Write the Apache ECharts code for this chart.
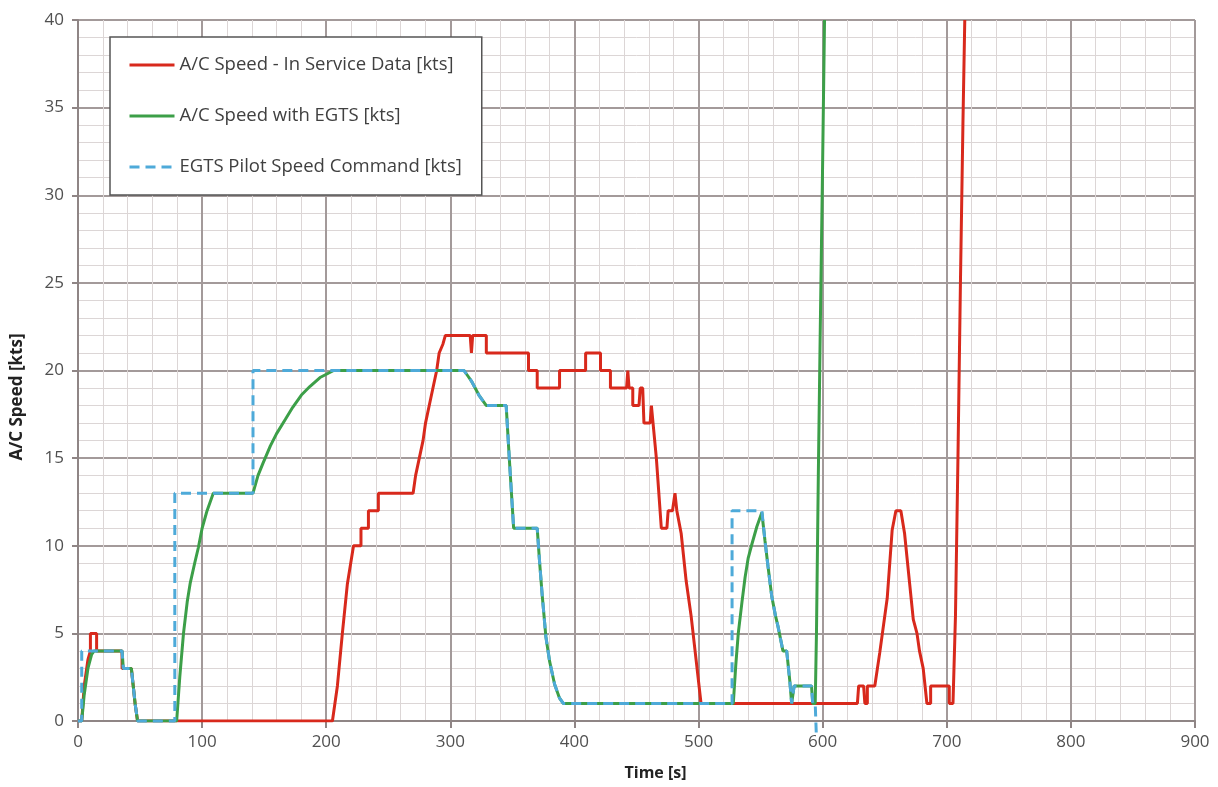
<!DOCTYPE html>
<html>
<head>
<meta charset="utf-8">
<title>A/C Speed</title>
<script src="https://cdn.jsdelivr.net/npm/echarts@6/dist/echarts.min.js"></script>
<style>
html, body { margin: 0; padding: 0; background: #fff; }
#chart { width: 1218px; height: 787px; }
</style>
</head>
<body>
<div id="chart"></div>
<script>
// axis ticks
const timeTicks = [0, 100, 200, 300, 400, 500, 600, 700, 800, 900];
const speedTicks = [0, 5, 10, 15, 20, 25, 30, 35, 40];

const seriesNames = [
  "A/C Speed - In Service Data [kts]",
  "A/C Speed with EGTS [kts]",
  "EGTS Pilot Speed Command [kts]"
];

// [time s, speed kts]
const inServiceSpeed = [
  [0, 0], [3, 0], [5, 2], [8, 3.5], [10, 4], [10, 5], [15, 5], [15, 4], [35.5, 4], [35.5, 3],
  [43, 3], [46, 1], [48, 0], [205, 0], [209, 2], [213, 5], [217, 7.8], [222, 10], [228, 10],
  [228, 11], [234, 11], [234, 12], [242, 12], [242, 13], [270, 13], [272, 14], [275, 15],
  [278, 16], [280, 17], [283, 18], [286, 19], [289, 20], [291, 21], [294, 21.5], [296, 22],
  [316, 22], [317, 21], [318, 22], [329, 22], [329, 21], [363, 21], [363, 20], [370, 20],
  [370, 19], [388, 19], [388, 20], [409, 20], [409, 21], [421, 21], [421, 20], [429, 20],
  [429, 19], [442, 19], [443, 20], [444, 19], [447, 19], [447, 18], [452, 18], [453, 19],
  [455, 19], [456, 17], [461, 17], [462, 18], [463, 18], [466, 15], [470, 11], [474.5, 11],
  [475.5, 12], [479, 12], [481, 13], [482.5, 12], [486, 10.7], [490, 8], [494, 6], [498, 3.5],
  [502, 1], [628, 1], [629, 2], [633, 2], [634, 1], [636, 1], [636, 2], [642, 2], [646, 3.9],
  [652, 7], [656, 10.9], [659, 12], [663, 12], [666, 10.7], [670, 7.9], [673, 5.8], [676, 5],
  [678, 4], [681, 3], [684, 1], [687, 1], [687, 2], [702, 2], [702, 1], [705, 1], [707, 6],
  [709, 15], [711, 25], [713, 34], [714.5, 40]
];

const egtsSpeed = [
  [0, 0], [3, 0], [5, 1.5], [8, 3], [11, 3.8], [13, 4], [35.5, 4], [36.5, 3], [43, 3], [46, 1],
  [48, 0], [79.5, 0], [82, 2.5], [85, 5], [88, 6.8], [90.5, 7.9], [94, 9], [97, 9.9], [100, 11],
  [104, 12], [107, 12.6], [109, 13], [141, 13], [145, 14], [149, 14.7], [155, 15.7], [160, 16.4],
  [167, 17.2], [173, 17.9], [180, 18.6], [187, 19.1], [195, 19.6], [206, 20], [311, 20],
  [314, 19.7], [317, 19.4], [320, 19], [323, 18.6], [326, 18.3], [329, 18], [345, 18],
  [347.5, 15], [351, 11], [370, 11], [372, 9], [374, 7.2], [377, 4.8], [380, 3.4], [384, 2.1],
  [388, 1.3], [391, 1], [528, 1], [530, 3.2], [532, 5], [535, 6.8], [537.5, 8.2], [540, 9.3],
  [543, 10.1], [547, 11.1], [551, 11.9], [553.5, 10.3], [556, 8.8], [559, 7.1], [562, 6],
  [564, 5.4], [568, 4], [571, 4], [573.5, 2.3], [575, 1], [576, 1], [577, 2], [591, 2],
  [592, 1], [594, 1], [595, 5], [596.5, 14], [598, 22], [600, 32], [601.5, 40]
];

const pilotCommand = [
  [0, 0], [3, 0], [3, 4], [35.5, 4], [36.5, 3], [43, 3], [46, 1], [48, 0], [78, 0], [78, 13],
  [141, 13], [141, 20], [311, 20], [314, 19.7], [317, 19.4], [320, 19], [323, 18.6], [326, 18.3],
  [329, 18], [345, 18], [347.5, 15], [351, 11], [370, 11], [372, 9], [374, 7.2], [377, 4.8],
  [380, 3.4], [384, 2.1], [388, 1.3], [391, 1], [527, 1], [527, 12], [551, 12], [553.5, 10.3],
  [556, 8.8], [559, 7.1], [562, 6], [564, 5.4], [568, 4], [571, 4], [573.5, 2.3], [575, 1],
  [576, 1], [577, 2], [591, 2], [592, 1], [594, 1], [595, -1]
];

const font = '"Open Sans", "Noto Sans", sans-serif';
const chart = echarts.init(document.getElementById("chart"));

const option = {
  animation: false,
  backgroundColor: "#fff",
  grid: { left: 78, right: 23, top: 20, bottom: 66 },
  legend: {
    orient: "vertical",
    left: 110,
    top: 37,
    padding: [18, 20, 18, 18],
    itemGap: 31,
    itemWidth: 45,
    itemHeight: 14,
    backgroundColor: "#fff",
    borderColor: "#555",
    borderWidth: 1.5,
    itemStyle: { opacity: 0 },
    lineStyle: { opacity: 1, width: 3 },
    textStyle: { fontFamily: font, fontSize: 18.5, lineHeight: 20, color: "#404040" },
    data: seriesNames
  },
  xAxis: {
    type: "value",
    min: timeTicks[0],
    max: timeTicks[timeTicks.length - 1],
    interval: timeTicks[1] - timeTicks[0],
    name: "Time [s]",
    nameLocation: "middle",
    nameGap: 44,
    nameTextStyle: {
      fontFamily: font, fontSize: 16, fontWeight: "bold", color: "#222",
      padding: [0, 0, 0, 38]
    },
    axisLine: { show: true, onZero: false, lineStyle: { color: "#8f8585", width: 2 } },
    axisTick: { show: true, length: 7, lineStyle: { color: "#8f8585", width: 2 } },
    axisLabel: { margin: 13, fontFamily: font, fontSize: 17, color: "#505050" },
    splitLine: { show: true, lineStyle: { color: "#a39a9a", width: 2 } },
    minorTick: { show: false, splitNumber: 5 },
    minorSplitLine: { show: true, lineStyle: { color: "#dcd6d6", width: 1 } }
  },
  yAxis: {
    type: "value",
    min: speedTicks[0],
    max: speedTicks[speedTicks.length - 1],
    interval: speedTicks[1] - speedTicks[0],
    axisLine: { show: true, lineStyle: { color: "#8f8585", width: 2 } },
    axisTick: { show: true, length: 6, lineStyle: { color: "#8f8585", width: 2 } },
    axisLabel: { margin: 14, fontFamily: font, fontSize: 17, color: "#505050" },
    splitLine: { show: true, lineStyle: { color: "#a39a9a", width: 2 } },
    minorTick: { show: false, splitNumber: 5 },
    minorSplitLine: { show: true, lineStyle: { color: "#dcd6d6", width: 1 } }
  },
  graphic: [{
    type: "text",
    x: 17,
    y: 397,
    rotation: Math.PI / 2,
    style: {
      text: "A/C Speed [kts]",
      font: 'bold 17px "Open Sans", "Noto Sans", sans-serif',
      fill: "#222",
      align: "center",
      verticalAlign: "middle"
    }
  }],
  series: [
    {
      name: seriesNames[0],
      type: "line",
      symbol: "none",
      data: inServiceSpeed,
      lineStyle: { color: "#d8291c", width: 3 },
      itemStyle: { color: "#d8291c" }
    },
    {
      name: seriesNames[1],
      type: "line",
      symbol: "none",
      data: egtsSpeed,
      lineStyle: { color: "#3c9f48", width: 3 },
      itemStyle: { color: "#3c9f48" }
    },
    {
      name: seriesNames[2],
      type: "line",
      symbol: "none",
      clip: false,
      data: pilotCommand,
      lineStyle: { color: "#4eaad9", width: 3, type: [10, 6] },
      itemStyle: { color: "#4eaad9" }
    }
  ]
};

chart.setOption(option);
</script>
</body>
</html>
